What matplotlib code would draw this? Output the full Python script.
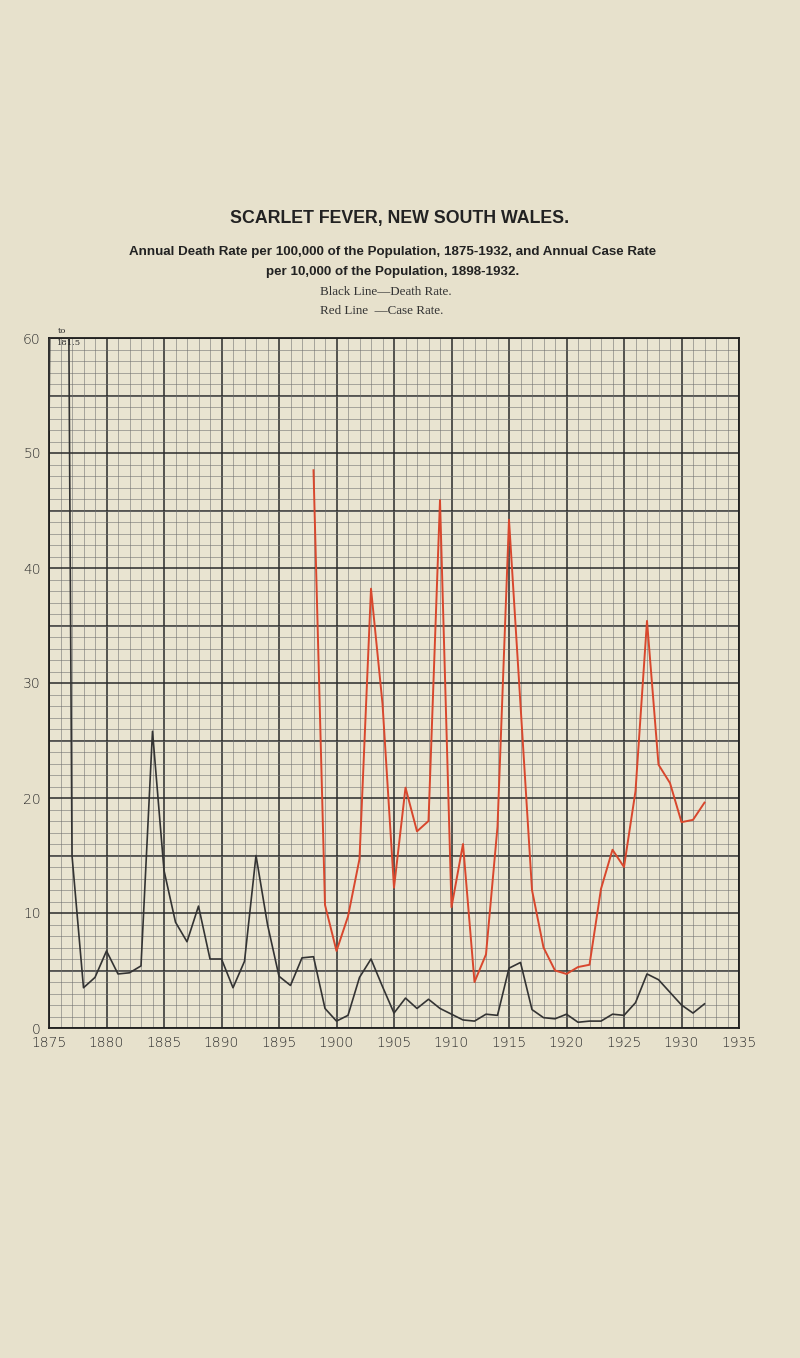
import numpy as np
import matplotlib.pyplot as plt

# death rate per 100,000 (black line), 1875-1932
death_years = list(range(1875, 1933))
death_rate = [52.0, 181.5, 15.0, 3.5, 4.4, 6.7, 4.7, 4.8, 5.4, 25.8,
              13.7, 9.2, 7.5, 10.6, 6.0, 6.0, 3.5, 5.8, 15.0, 9.0,
              4.5, 3.7, 6.1, 6.2, 1.7, 0.6, 1.1, 4.4, 6.0, 3.6,
              1.3, 2.6, 1.7, 2.5, 1.7, 1.2, 0.7, 0.6, 1.2, 1.1,
              5.2, 5.7, 1.6, 0.9, 0.8, 1.2, 0.5, 0.6, 0.6, 1.2,
              1.1, 2.2, 4.7, 4.2, 3.1, 2.0, 1.3, 2.1]

# case rate per 10,000 (red line), 1898-1932
case_years = list(range(1898, 1933))
case_rate = [48.5, 10.7, 6.7, 9.7, 14.7, 38.2, 28.2, 12.2, 20.9, 17.1,
             18.0, 45.9, 10.5, 16.0, 4.0, 6.4, 17.5, 44.2, 28.1, 12.0,
             7.0, 5.0, 4.7, 5.3, 5.5, 12.1, 15.5, 14.0, 20.6, 35.4,
             22.9, 21.3, 17.9, 18.1, 19.6]

x_ticks = list(range(1875, 1936, 5))
y_ticks = list(range(0, 61, 10))

paper = '#e7e1cc'
ink = '#2a2a2a'

fig = plt.figure(figsize=(8, 13.58), dpi=100, facecolor=paper)
ax = fig.add_axes([49 / 800, 1 - 1028 / 1358, 690 / 800, 690 / 1358])
ax.set_facecolor('#e9e4d1')

ax.set_xlim(1875, 1935)
ax.set_ylim(0, 60)
ax.set_xticks(x_ticks)
ax.set_yticks(y_ticks)
ax.set_xticks(range(1875, 1936), minor=True)
ax.set_yticks(range(0, 61), minor=True)
ax.grid(which='minor', color='#6e6e6e', lw=0.55, alpha=0.7)
ax.grid(which='major', color='#2a2a2a', lw=1.1)
for v in range(5, 60, 10):
    ax.axhline(v, color='#2a2a2a', lw=1.1, zorder=0.5)
ax.set_axisbelow(True)
ax.tick_params(which='both', length=0, labelsize=10, labelcolor=ink)
ax.tick_params(axis='y', pad=6)
ax.tick_params(axis='x', pad=6)
for lab in ax.get_xticklabels() + ax.get_yticklabels():
    lab.set_fontweight('light')
for s in ax.spines.values():
    s.set_color('#1e1e1e')
    s.set_linewidth(1.3)

ax.plot(death_years, death_rate, color='#333333', lw=1.2, zorder=3)
ax.plot(case_years, case_rate, color='#d8472d', lw=1.4, zorder=4)

ax.text(1875.8, 60.3, 'to', fontsize=6, color=ink, ha='left', va='bottom',
        family='DejaVu Serif', clip_on=False)
ax.text(1875.7, 59.9, '181.5', fontsize=6, color=ink, ha='left', va='top',
        family='DejaVu Serif', clip_on=False)

fig.text(0.5, 1 - 219 / 1358, 'SCARLET FEVER, NEW SOUTH WALES.',
         ha='center', va='center', fontsize=12.8, fontweight='bold',
         family='Liberation Sans', color='#222222')
fig.text(0.491, 1 - 252 / 1358,
         'Annual Death Rate per 100,000 of the Population, 1875-1932, and Annual Case Rate',
         ha='center', va='center', fontsize=9.6, fontweight='bold',
         family='Liberation Sans', color='#222222')
fig.text(0.491, 1 - 272 / 1358, 'per 10,000 of the Population, 1898-1932.',
         ha='center', va='center', fontsize=9.6, fontweight='bold',
         family='Liberation Sans', color='#222222')
fig.text(320 / 800, 1 - 292 / 1358, 'Black Line\u2014Death Rate.',
         ha='left', va='center', fontsize=9.4, family='Liberation Serif', color='#333333')
fig.text(320 / 800, 1 - 311 / 1358, 'Red Line  \u2014Case Rate.',
         ha='left', va='center', fontsize=9.4, family='Liberation Serif', color='#333333')

fig.savefig('out.png', dpi=100, facecolor=paper)
